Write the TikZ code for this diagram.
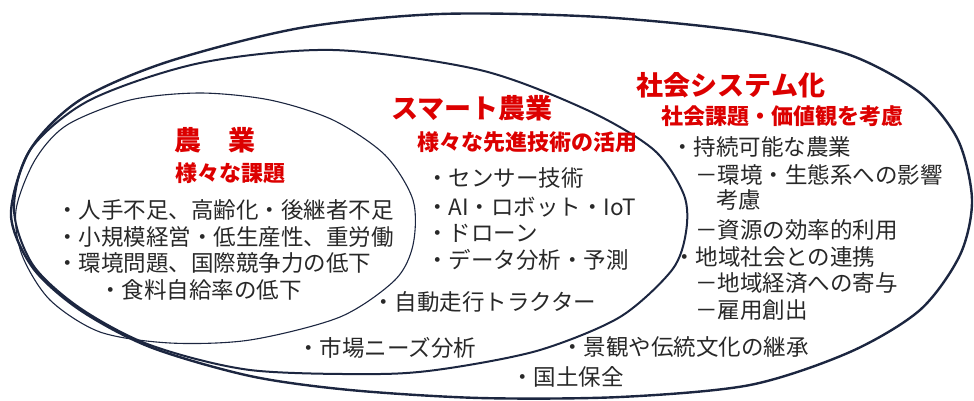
\documentclass[tikz,border=0pt]{standalone}
\usepackage{fontspec}
\setmainfont{Noto Sans CJK JP}
\definecolor{headred}{RGB}{220,0,0}
\definecolor{linenavy}{RGB}{28,38,64}
\definecolor{txtgray}{RGB}{40,40,40}
\tikzset{
  ringthick/.style={draw=linenavy, line width=2.4pt, line join=round},
  ringmid/.style={draw=linenavy, line width=2pt, line join=round},
  ringthin/.style={draw=linenavy, line width=1.1pt},
  bighead/.style={text=headred, inner sep=0pt, font=\fontsize{27}{30}\selectfont\bfseries},
  subhead/.style={text=headred, inner sep=0pt, font=\fontsize{22}{26}\selectfont\bfseries},
  item/.style={text=txtgray, inner sep=0pt, anchor=west, font=\fontsize{22.5}{26}\selectfont}
}
\begin{document}
\begin{tikzpicture}[x=1pt,y=-1pt]
\useasboundingbox (0,0) rectangle (974,400);
% outer ring
\draw[ringthick] plot[smooth cycle] coordinates {(11,215) (30,150) (80,100) (167,62) (300,28) (440,14) (600,17) (750,32) (850,55) (920,93) (958,140) (972,200) (960,255) (920,310) (850,352) (750,385) (620,397) (480,398) (350,390) (250,376) (150,347) (80,310) (33,268)};
% middle ring
\draw[ringmid] plot[smooth cycle] coordinates {(14,210) (30,150) (90,100) (200,63) (333,50) (480,70) (587,110) (654,150) (684,195) (686,232) (672,270) (620,317) (540,350) (450,368) (380,374) (250,370) (150,345) (80,308) (33,265)};
% inner ring
\draw[ringthin] plot[smooth cycle] coordinates {(16,210) (35,160) (67,125) (130,100) (200,93) (270,100) (333,120) (385,155) (413,200) (413,245) (395,280) (340,317) (250,340) (170,343) (100,332) (50,300) (22,255)};

% headings
\node[bighead] (h1) at (215,140) {農　業};
\node[subhead] (s1) at (230,173) {様々な課題};
\node[bighead] (h2) at (472,108) {スマート農業};
\node[subhead] (s2) at (527,142) {様々な先進技術の活用};
\node[bighead] (h3) at (731,85) {社会システム化};
\node[subhead] (s3) at (782,116) {社会課題・価値観を考慮};

% inner items
\node[item] (a1) at (56,210) {・人手不足、高齢化・後継者不足};
\node[item] (a2) at (56,237) {・小規模経営・低生産性、重労働};
\node[item] (a3) at (56,263) {・環境問題、国際競争力の低下};
\node[item] (a4) at (99,290) {・食料自給率の低下};

% middle items
\node[item] (b1) at (426,178) {・センサー技術};
\node[item] (b2) at (426,207) {・AI・ロボット・IoT};
\node[item] (b3) at (426,233) {・ドローン};
\node[item] (b4) at (426,260) {・データ分析・予測};
\node[item] (b5) at (372,302) {・自動走行トラクター};
\node[item] (b6) at (297,348) {・市場ニーズ分析};

% outer items
\node[item] (c1) at (671,147) {・持続可能な農業};
\node[item] (c2) at (695,175) {－環境・生態系への影響};
\node[item] (c3) at (716,200) {考慮};
\node[item] (c4) at (695,230) {－資源の効率的利用};
\node[item] (c5) at (673,257) {・地域社会との連携};
\node[item] (c6) at (695,283) {－地域経済への寄与};
\node[item] (c7) at (695,310) {－雇用創出};
\node[item] (c8) at (561,347) {・景観や伝統文化の継承};
\node[item] (c9) at (511,377) {・国土保全};
\end{tikzpicture}
\end{document}
